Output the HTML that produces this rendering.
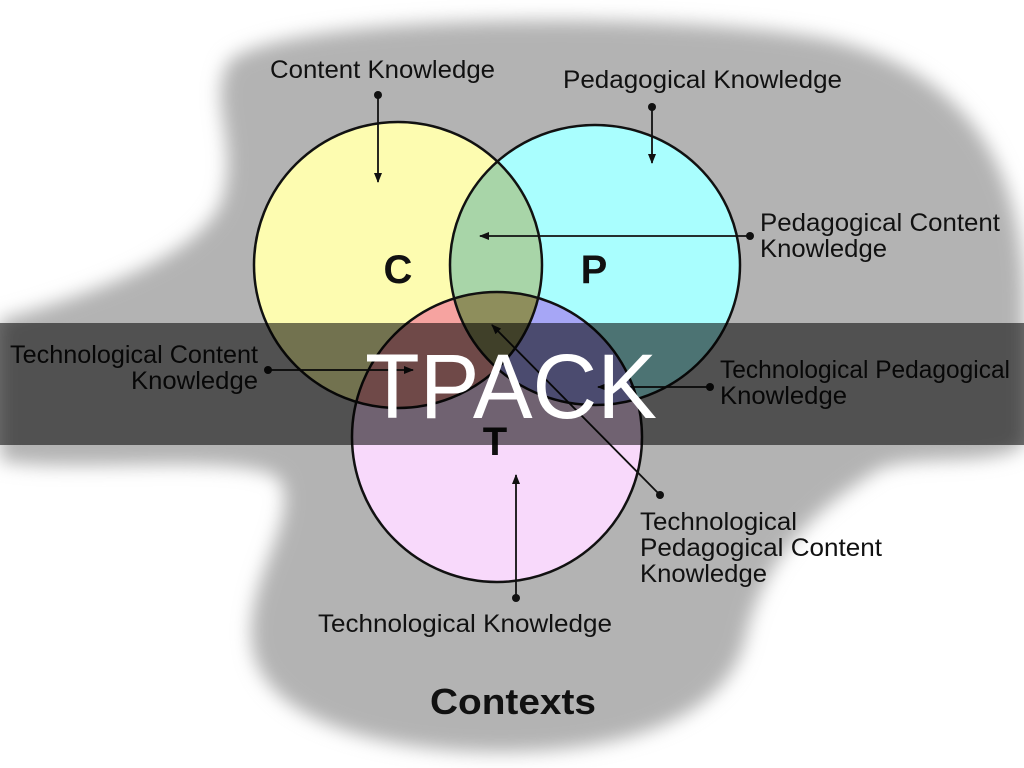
<!DOCTYPE html>
<html><head><meta charset="utf-8"><style>
html,body{margin:0;padding:0;background:#fff;}
svg{display:block;}
text{font-family:"Liberation Sans",sans-serif;fill:#111;}
</style></head><body>
<svg width="1024" height="768" viewBox="0 0 1024 768" xmlns="http://www.w3.org/2000/svg">
<defs>
<filter id="bl" x="-10%" y="-10%" width="120%" height="120%"><feGaussianBlur stdDeviation="9"/></filter>
<clipPath id="cC"><ellipse cx="398" cy="265" rx="144" ry="143"/></clipPath>
<clipPath id="cP"><ellipse cx="595" cy="265" rx="145" ry="140"/></clipPath>
<clipPath id="cT"><ellipse cx="497" cy="437" rx="145" ry="145"/></clipPath>
<marker id="ar" markerWidth="10" markerHeight="10" refX="9" refY="5" orient="auto" markerUnits="userSpaceOnUse"><path d="M0,1 L10,5 L0,9 Z" fill="#111"/></marker>
</defs>
<path filter="url(#bl)" fill="#b3b3b3" d="M230,60 C300,10 700,12 830,40 C960,70 1024,160 1024,300 L1024,445 C990,470 900,450 870,475 C800,520 760,570 745,640 C725,720 620,752 500,752 C380,752 262,720 252,645 C244,580 300,520 280,480 C250,450 60,475 0,460 L0,320 C70,300 200,260 222,200 C240,140 205,100 230,60 Z"/>
<ellipse cx="398" cy="265" rx="144" ry="143" fill="#fdfcb0"/>
<ellipse cx="595" cy="265" rx="145" ry="140" fill="#a9fefe"/>
<ellipse cx="497" cy="437" rx="145" ry="145" fill="#f8d9fb"/>
<g clip-path="url(#cC)"><ellipse cx="595" cy="265" rx="145" ry="140" fill="#a8d5a8"/><ellipse cx="497" cy="437" rx="145" ry="145" fill="#f6a3a0"/></g>
<g clip-path="url(#cP)"><ellipse cx="497" cy="437" rx="145" ry="145" fill="#a6a6f6"/></g>
<g clip-path="url(#cC)"><g clip-path="url(#cP)"><ellipse cx="497" cy="437" rx="145" ry="145" fill="#8e8e5c"/></g></g>
<g fill="none" stroke="#111" stroke-width="2.5">
<ellipse cx="398" cy="265" rx="144" ry="143"/>
<ellipse cx="595" cy="265" rx="145" ry="140"/>
<ellipse cx="497" cy="437" rx="145" ry="145"/>
</g>
<g stroke="#111" stroke-width="1.8" marker-end="url(#ar)">
<line x1="378" y1="95" x2="378" y2="182"/>
<line x1="652" y1="107" x2="652" y2="163"/>
<line x1="750" y1="236" x2="480" y2="236"/>
<line x1="268" y1="370" x2="413" y2="370"/>
<line x1="710" y1="387" x2="598" y2="387"/>
<line x1="660" y1="495" x2="492" y2="325"/>
<line x1="516" y1="598" x2="516" y2="475"/>
</g>
<g fill="#111">
<circle cx="378" cy="95" r="4"/><circle cx="652" cy="107" r="4"/><circle cx="750" cy="236" r="4"/>
<circle cx="268" cy="370" r="4"/><circle cx="710" cy="387" r="4"/><circle cx="660" cy="495" r="4"/><circle cx="516" cy="598" r="4"/>
</g>
<g font-size="25" lengthAdjust="spacingAndGlyphs">
<text x="270" y="78" textLength="225" lengthAdjust="spacingAndGlyphs">Content Knowledge</text>
<text x="563" y="88" textLength="279" lengthAdjust="spacingAndGlyphs">Pedagogical Knowledge</text>
<text x="760" y="231" textLength="240" lengthAdjust="spacingAndGlyphs">Pedagogical Content</text>
<text x="760" y="257" textLength="127" lengthAdjust="spacingAndGlyphs">Knowledge</text>
<text x="10" y="363" textLength="248" lengthAdjust="spacingAndGlyphs">Technological Content</text>
<text x="131" y="389" textLength="127" lengthAdjust="spacingAndGlyphs">Knowledge</text>
<text x="720" y="378" textLength="290" lengthAdjust="spacingAndGlyphs">Technological Pedagogical</text>
<text x="720" y="404" textLength="127" lengthAdjust="spacingAndGlyphs">Knowledge</text>
<text x="640" y="530" textLength="157" lengthAdjust="spacingAndGlyphs">Technological</text>
<text x="640" y="556" textLength="242" lengthAdjust="spacingAndGlyphs">Pedagogical Content</text>
<text x="640" y="582" textLength="127" lengthAdjust="spacingAndGlyphs">Knowledge</text>
<text x="318" y="632" textLength="294" lengthAdjust="spacingAndGlyphs">Technological Knowledge</text>
</g>
<g font-weight="bold" font-size="40" text-anchor="middle">
<text x="398" y="283">C</text>
<text x="594" y="283">P</text>
<text x="495" y="455">T</text>
</g>
<text x="430" y="714" font-weight="bold" font-size="36" textLength="166" lengthAdjust="spacingAndGlyphs">Contexts</text>
<rect x="0" y="323" width="1024" height="122" fill="#000" opacity="0.55"/>
<text x="365" y="418" font-size="92" style="fill:#fff" textLength="292" lengthAdjust="spacingAndGlyphs">TPACK</text>
</svg>
</body></html>
